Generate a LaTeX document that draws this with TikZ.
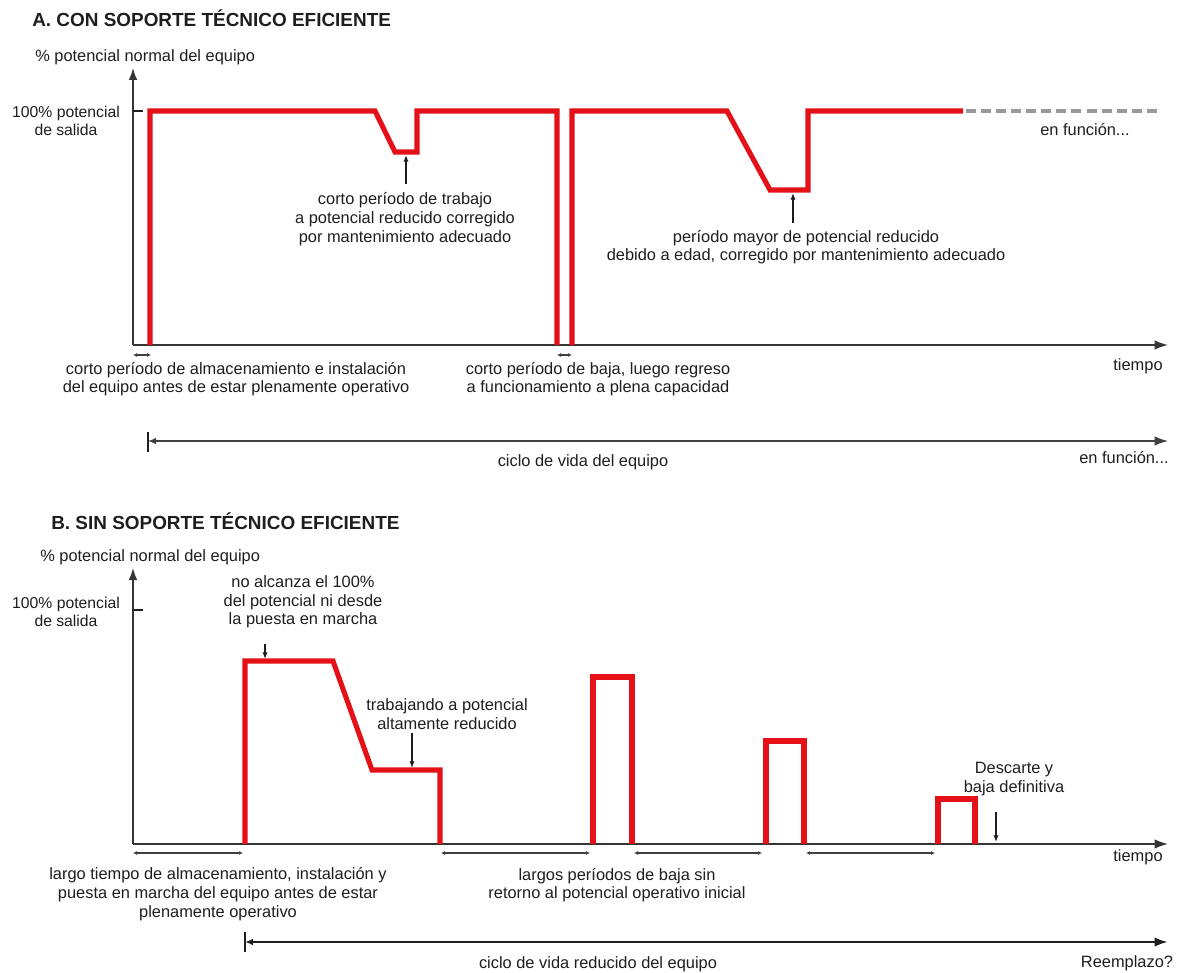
\documentclass[tikz,border=0pt]{standalone}
\usepackage{fontspec}
\setmainfont{Liberation Sans}
\usetikzlibrary{arrows.meta}
\definecolor{chartred}{RGB}{228,18,24}
\definecolor{ink}{RGB}{30,30,30}
\tikzset{
  lbl/.style={text=ink, font=\fontsize{12.3}{14}\selectfont, inner sep=0pt, align=center},
  lblL/.style={lbl, align=left, anchor=west},
  ttl/.style={text=ink, font=\fontsize{14.2}{16}\selectfont\bfseries, inner sep=0pt, anchor=west},
  axisline/.style={draw=ink!90, line width=1.1pt},
  yarrow/.style={axisline, -{Latex[length=9pt,width=6.5pt]}},
  xarrow/.style={axisline, -{Latex[length=10pt,width=7pt]}},
  tickline/.style={draw=ink, line width=1pt},
  redline/.style={draw=chartred, line width=3.8pt, line join=miter, line cap=butt},
  grayline/.style={draw=gray!80, line width=3pt, dash pattern=on 7.5pt off 3.8pt},
  pointer/.style={draw=ink, line width=1.1pt, -{Latex[length=5pt,width=4pt]}},
  span/.style={draw=ink!85, line width=0.8pt, {Latex[length=3pt,width=3pt]}-{Latex[length=3pt,width=3pt]}},
  lifeA/.style={draw=ink!85, line width=1pt, {Latex[length=6pt,width=5pt]}-{Latex[length=10pt,width=7pt]}},
  lifeB/.style={draw=ink, line width=1.8pt, {Latex[length=6pt,width=5pt]}-{Latex[length=10pt,width=7pt]}},
}
\begin{document}
\begin{tikzpicture}[x=0.75pt, y=-0.75pt]
\useasboundingbox (0,0) rectangle (1180,973);
\fill[white] (0,0) rectangle (1180,973);

% ================= PART A =================
\node[ttl] (titleA) at (32,18) {A. CON SOPORTE TÉCNICO EFICIENTE};
\node[lblL] (ylabA) at (35,57) {\% potencial normal del equipo};
\node[lbl, font=\fontsize{11.8}{14}\selectfont] (fullA) at (66,121) {100\% potencial\\de salida};

\coordinate (oA) at (133,345);
\coordinate (ytopA) at (133,68);
\coordinate (xendA) at (1168,345);
\draw[yarrow] (oA) -- (ytopA);
\draw[xarrow] (oA) -- (xendA);
\coordinate (tickA1) at (133,111);
\coordinate (tickA2) at (143,111);
\draw[tickline] (tickA1) -- (tickA2);

\draw[redline] (150,345) -- (150,111) -- (375,111) -- (395,152) -- (417,152) -- (417,111) -- (557,111) -- (557,345);
\draw[redline] (572,345) -- (572,111) -- (727,111) -- (770,190) -- (808,190) -- (808,111) -- (963,111);
\draw[grayline] (966,111) -- (1158,111);

\node[lbl] (enfA1) at (1085,130) {en función...};

\node[lbl] (dip1) at (405,219) {corto período de trabajo\\a potencial reducido corregido\\por mantenimiento adecuado};
\coordinate (dip1a) at (406,184);
\coordinate (dip1b) at (406,155);
\draw[pointer] (dip1a) -- (dip1b);

\node[lbl] (dip2) at (806,247) {período mayor de potencial reducido\\debido a edad, corregido por mantenimiento adecuado};
\coordinate (dip2a) at (793,223);
\coordinate (dip2b) at (793,193);
\draw[pointer] (dip2a) -- (dip2b);

\coordinate (sA1) at (133,355);
\coordinate (sA2) at (151,355);
\draw[span] (sA1) -- (sA2);
\coordinate (sA3) at (557,355);
\coordinate (sA4) at (572,355);
\draw[span] (sA3) -- (sA4);

\node[lbl] (storeA) at (236,379) {corto período de almacenamiento e instalación\\del equipo antes de estar plenamente operativo};
\node[lbl] (downA) at (598,379) {corto período de baja, luego regreso\\a funcionamiento a plena capacidad};
\node[lbl] (timeA) at (1138,366) {tiempo};

\coordinate (lifeA1) at (148,441);
\coordinate (lifeA2) at (1168,441);
\draw[lifeA] (lifeA1) -- (lifeA2);
\coordinate (barA1) at (148,432);
\coordinate (barA2) at (148,452);
\draw[tickline] (barA1) -- (barA2);
\node[lbl] (cycA) at (583,462) {ciclo de vida del equipo};
\node[lbl] (enfA2) at (1124,458) {en función...};

% ================= PART B =================
\node[ttl] (titleB) at (51,521) {B. SIN SOPORTE TÉCNICO EFICIENTE};
\node[lblL] (ylabB) at (40,557) {\% potencial normal del equipo};
\node[lbl, font=\fontsize{11.8}{14}\selectfont] (fullB) at (66,612) {100\% potencial\\de salida};

\coordinate (oB) at (133,844);
\coordinate (ytopB) at (133,568);
\coordinate (xendB) at (1168,844);
\draw[yarrow] (oB) -- (ytopB);
\draw[xarrow] (oB) -- (xendB);
\coordinate (tickB1) at (133,610);
\coordinate (tickB2) at (143,610);
\draw[tickline] (tickB1) -- (tickB2);

\draw[redline] (245,844) -- (245,661) -- (333,661) -- (372,770) -- (440,770) -- (440,844);
\draw[redline] (593,844) -- (593,677) -- (632,677) -- (632,844);
\draw[redline] (766,844) -- (766,741) -- (804,741) -- (804,844);
\draw[redline] (938,844) -- (938,799) -- (975,799) -- (975,844);

\node[lbl] (never) at (303,602) {no alcanza el 100\%\\del potencial ni desde\\la puesta en marcha};
\coordinate (nevera) at (265,644);
\coordinate (neverb) at (265,659);
\draw[pointer] (nevera) -- (neverb);

\node[lbl] (work) at (447,714) {trabajando a potencial\\altamente reducido};
\coordinate (worka) at (412,733);
\coordinate (workb) at (412,768);
\draw[pointer] (worka) -- (workb);

\node[lbl] (disc) at (1014,779) {Descarte y\\baja definitiva};
\coordinate (disca) at (996,812);
\coordinate (discb) at (996,842);
\draw[pointer] (disca) -- (discb);

\coordinate (sB1) at (133,853);
\coordinate (sB2) at (243,853);
\draw[span] (sB1) -- (sB2);
\coordinate (sB3) at (441,853);
\coordinate (sB4) at (590,853);
\draw[span] (sB3) -- (sB4);
\coordinate (sB5) at (634,853);
\coordinate (sB6) at (762,853);
\draw[span] (sB5) -- (sB6);
\coordinate (sB7) at (806,853);
\coordinate (sB8) at (935,853);
\draw[span] (sB7) -- (sB8);

\node[lbl] (storeB) at (218,894) {largo tiempo de almacenamiento, instalación y\\puesta en marcha del equipo antes de estar\\plenamente operativo};
\node[lbl] (downB) at (617,885) {largos períodos de baja sin\\retorno al potencial operativo inicial};
\node[lbl] (timeB) at (1138,857) {tiempo};

\coordinate (lifeB1) at (245,942);
\coordinate (lifeB2) at (1168,942);
\draw[lifeB] (lifeB1) -- (lifeB2);
\coordinate (barB1) at (245,932);
\coordinate (barB2) at (245,952);
\draw[tickline] (barB1) -- (barB2);
\node[lbl] (cycB) at (598,964) {ciclo de vida reducido del equipo};
\node[lbl] (repl) at (1127,963) {Reemplazo?};
\end{tikzpicture}
\end{document}
